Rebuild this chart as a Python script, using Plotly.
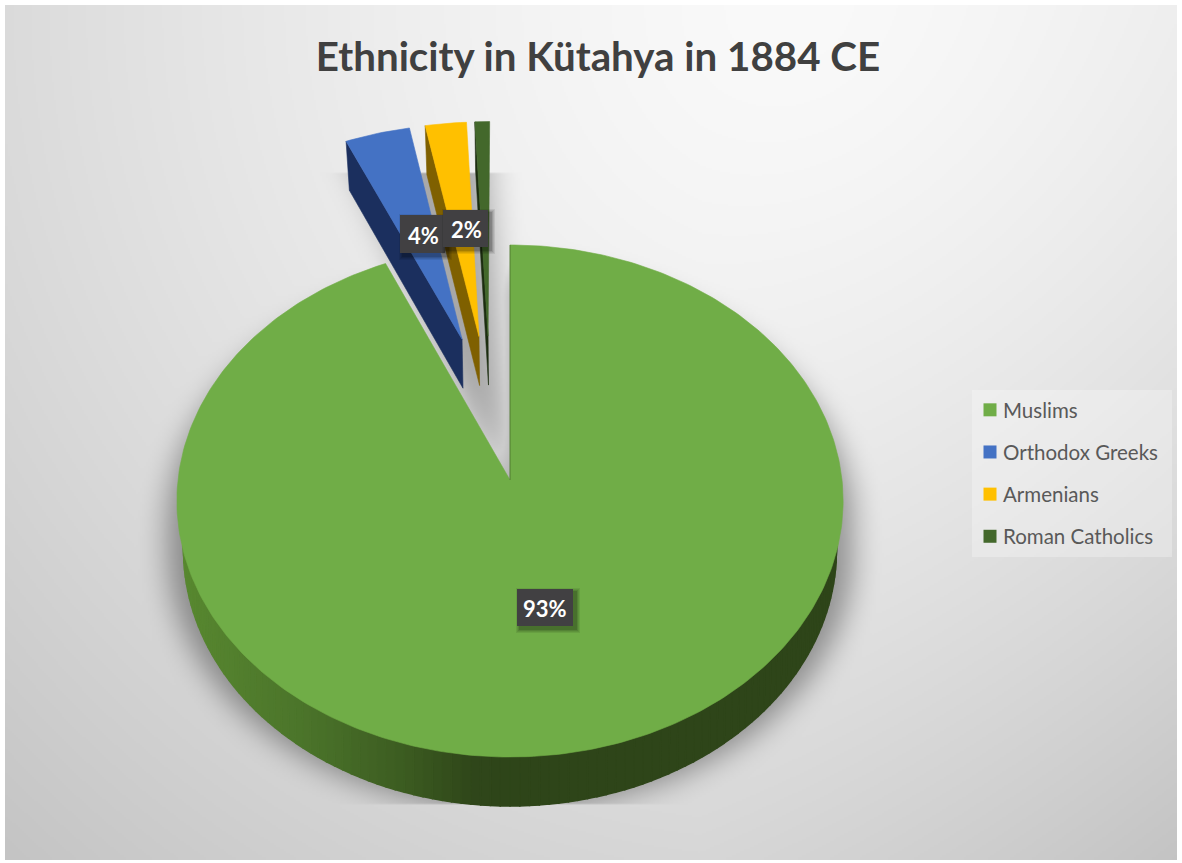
import base64, struct, zlib
import numpy as np
import plotly.graph_objects as go

# ---- data ----
categories = ["Muslims", "Orthodox Greeks", "Armenians", "Roman Catholics"]
shares = [93.4, 3.55, 2.25, 0.8]
labels = ["93%", "4%", "2%", None]

# ---- style ----
W, H = 1182, 863
TOP_COLORS = ["#70AD47", "#4472C4", "#FFC000", "#43682B"]
SIDE_COLORS = ["#2E4519", "#1B2F5E", "#7F6000", "#1C2D10"]
PULL = 0.30
CX, CY, AX, BY, PERSP = 510.0, 480.0, 332.0, 254.3, 0.082
DEPTH, BOTTOM_SCALE = 49.0, 0.98
FONT = "Lato"


def project(u, v):
    den = 1 + PERSP * np.asarray(v)
    return CX + AX * np.asarray(u) / den, CY - BY * np.asarray(v) / den


def drop(x, y):
    return CX + (np.asarray(x) - CX) * BOTTOM_SCALE, np.asarray(y) + DEPTH


total = sum(shares)
edges = np.cumsum([0] + shares) / total * 2 * np.pi
mids = (edges[:-1] + edges[1:]) / 2
base = -PULL * np.array([np.sin(mids[0]), np.cos(mids[0])])
offsets = [base + PULL * np.array([np.sin(m), np.cos(m)]) for m in mids]


def arc(i, n=None):
    n = n or max(6, int((edges[i + 1] - edges[i]) * 60))
    t = np.linspace(edges[i], edges[i + 1], n)
    return project(offsets[i][0] + np.sin(t), offsets[i][1] + np.cos(t))


def apex(i):
    return project(offsets[i][0], offsets[i][1])


def face(i):
    ax, ay = apex(i)
    x, y = arc(i)
    return np.r_[float(ax), x, float(ax)], np.r_[float(ay), y, float(ay)]


def side(i):
    """left radial wall of an exploded slice"""
    ax, ay = apex(i)
    x, y = arc(i)
    x0, y0 = float(x[0]), float(y[0])
    bx0, by0 = drop(x0, y0)
    bax, bay = drop(float(ax), float(ay))
    return [x0, float(ax), float(bax), float(bx0), x0], [y0, float(ay), float(bay), float(by0), y0]


def rim_strips(n=120):
    t = np.linspace(np.radians(85), np.radians(275), n + 1)
    x, y = project(np.sin(t), np.cos(t))
    bx, by = drop(x, y)
    ix, iy = project(0.985 * np.sin(t), 0.985 * np.cos(t))
    return x, ix, iy, bx, by


def rim_color(px):
    stops_x = [175, 300, 400, 470, 520, 900]
    r = np.interp(px, stops_x, [88, 75, 60, 47, 46, 46])
    g = np.interp(px, stops_x, [136, 116, 92, 70, 69, 69])
    b = np.interp(px, stops_x, [48, 42, 33, 26, 25, 25])
    return f"rgb({r:.0f},{g:.0f},{b:.0f})"


# ---- background with gradient and pie shadow ----
def poly_mask(px, py, gx, gy):
    inside = np.zeros((gy.size, gx.size), bool)
    X, Y = np.meshgrid(gx, gy)
    n = len(px)
    for k in range(n):
        x1, y1, x2, y2 = px[k], py[k], px[(k + 1) % n], py[(k + 1) % n]
        if y1 == y2:
            continue
        cond = (y1 > Y) != (y2 > Y)
        inside ^= cond & (X < (x2 - x1) * (Y - y1) / (y2 - y1) + x1)
    return inside


def box_blur(a, r):
    ker = np.ones(2 * r + 1) / (2 * r + 1)
    for axis in (0, 1):
        a = np.apply_along_axis(lambda m: np.convolve(np.pad(m, r, mode="edge"), ker, "valid"), axis, a)
    return a


def background():
    step = 2
    gx = np.arange(5, 1177, step) + 0.5
    gy = np.arange(5, 860, step) + 0.5
    X, Y = np.meshgrid(gx, gy)
    d = np.hypot(X - 790, Y - 10)
    g = 250 - 38 * (d / 900) ** 1.4
    g = np.clip(g - 0.03 * np.maximum(X - 700, 0) * (Y / 860), 190, 255)

    # large slice
    fx, fy = face(0)
    bx, by = drop(fx, fy)
    main = poly_mask(CX + (bx - CX) * 1.05, by + 3, gx, gy).astype(float)
    main = np.maximum(main, poly_mask(CX + (fx - CX) * 1.03, fy + 25, gx, gy).astype(float))
    main_shadow = box_blur(box_blur(main, 8), 7)

    # exploded cluster, including the gap behind it
    xs1, ys1 = arc(1)
    xs3, ys3 = arc(3)
    ax0, ay0 = apex(0)
    ax1, ay1 = apex(1)
    cx = [xs1[0], xs3[-1], float(ax0), float(ax1)]
    cy = [ys1[0], ys3[-1], float(ay0), float(ay1) + DEPTH]
    cluster = poly_mask(np.array(cx) - 3, np.array(cy) + 6, gx, gy).astype(float)
    cluster_shadow = box_blur(box_blur(cluster, 8), 8)

    shadow = np.maximum(main_shadow, 0.8 * cluster_shadow)
    shadow[(Y < 172) | (Y > 805)] = 0
    g = g * (1 - 0.36 * shadow)
    arr = np.clip(g, 0, 255).astype(np.uint8)

    raw = b"".join(b"\x00" + row.tobytes() for row in arr)

    def chunk(tag, data):
        c = struct.pack(">I", len(data)) + tag + data
        return c + struct.pack(">I", zlib.crc32(tag + data) & 0xFFFFFFFF)

    png = b"\x89PNG\r\n\x1a\n" + chunk(b"IHDR", struct.pack(">IIBBBBB", arr.shape[1], arr.shape[0], 8, 0, 0, 0, 0))
    png += chunk(b"IDAT", zlib.compress(raw, 9)) + chunk(b"IEND", b"")
    return "data:image/png;base64," + base64.b64encode(png).decode()


fig = go.Figure()


def poly(x, y, color, lw=0.6):
    fig.add_trace(go.Scatter(x=list(map(float, x)), y=list(map(float, y)), mode="lines", fill="toself",
                             fillcolor=color, line=dict(color=color, width=lw),
                             hoverinfo="skip", showlegend=False))


# exploded slices, back to front
for i in (1, 2, 3):
    sx, sy = side(i)
    poly(sx, sy, SIDE_COLORS[i])
    fx, fy = face(i)
    poly(fx, fy, TOP_COLORS[i])

# rim of the large slice
rx, rix, riy, rbx, rby = rim_strips()
for k in range(len(rix) - 1):
    poly([rix[k], rix[k + 1], rbx[k + 1], rbx[k], rix[k]],
         [riy[k], riy[k + 1], rby[k + 1], rby[k], riy[k]],
         rim_color((rx[k] + rx[k + 1]) / 2), lw=1.5)
fx, fy = face(0)
poly(fx, fy, TOP_COLORS[0])
ax0, ay0 = apex(0)
ex0, ey0 = arc(0)
fig.add_trace(go.Scatter(x=[float(ax0), float(ex0[0])], y=[float(ay0), float(ey0[0])], mode="lines",
                         line=dict(color="rgba(46,69,25,0.45)", width=1), hoverinfo="skip", showlegend=False))

# legend entries
for name, color in zip(categories, TOP_COLORS):
    fig.add_trace(go.Scatter(x=[None], y=[None], mode="markers", name=name, legendgroup=name,
                             marker=dict(symbol="square", size=13, color=color)))

# legend panel
shapes = [dict(type="rect", layer="above", x0=972, x1=1172, y0=390, y1=557,
               fillcolor="rgba(255,255,255,0.28)", line_width=0)]

# data labels
LABEL_BOXES = {0: (517, 589, 573, 626, 545, 608), 1: (400, 215, 445, 253, 423, 235), 2: (443, 210, 488, 247, 466, 229)}
for i in (1, 0, 2):
    x0, y0, x1, y1, tx, ty = LABEL_BOXES[i]
    for grow, alpha in ((4, 0.08), (3, 0.08), (2, 0.10), (1, 0.14)):
        shapes.append(dict(type="rect", layer="above", x0=x0 + 3 - grow, x1=x1 + 3 + grow, y0=y0 + 3 - grow, y1=y1 + 3 + grow,
                           fillcolor=f"rgba(0,0,0,{alpha})", line_width=0))
    shapes.append(dict(type="rect", layer="above", x0=x0, x1=x1, y0=y0, y1=y1, fillcolor="#414042", line_width=0))

annotations = [dict(x=LABEL_BOXES[i][4], y=LABEL_BOXES[i][5], text=f"<b>{labels[i]}</b>", showarrow=False,
                    xanchor="center", yanchor="middle", font=dict(family=FONT, size=22, color="#FFFFFF"))
               for i in (0, 1, 2)]

fig.update_layout(
    width=W, height=H, autosize=False,
    margin=dict(l=0, r=0, t=0, b=0),
    paper_bgcolor="#FFFFFF", plot_bgcolor="rgba(0,0,0,0)",
    title=dict(text="<b>Ethnicity in Kütahya in 1884 CE</b>", x=598 / W, xanchor="center", y=1 - 57 / H, yanchor="middle",
               font=dict(family=FONT, size=40.3, color="#404040")),
    xaxis=dict(range=[0, W], visible=False, fixedrange=True),
    yaxis=dict(range=[H, 0], visible=False, fixedrange=True),
    images=[dict(source=background(), xref="x", yref="y", x=5, y=5, sizex=1172, sizey=855,
                 xanchor="left", yanchor="top", sizing="stretch", layer="below")],
    shapes=shapes, annotations=annotations,
    legend=dict(x=978 / W, xanchor="left", y=1 - 390 / H, yanchor="top", bgcolor="rgba(0,0,0,0)",
                font=dict(family=FONT, size=20.5, color="#595959"), tracegroupgap=12.5, indentation=-15,
                traceorder="grouped"),
    showlegend=True,
)
POST = """
document.body.style.margin='0';document.documentElement.style.overflow='hidden';
var gd=document.getElementById('{plot_id}');
function nudge(){document.querySelectorAll('.legendsymbols').forEach(function(e){
  if(!e.dataset.nudged){e.dataset.nudged='1';
  e.setAttribute('transform',(e.getAttribute('transform')||'')+' translate(7,0)');}});}
nudge();gd.on('plotly_afterplot',nudge);setTimeout(nudge,50);
"""
fig.write_html("out.html", config=dict(displayModeBar=False), post_script=POST)
